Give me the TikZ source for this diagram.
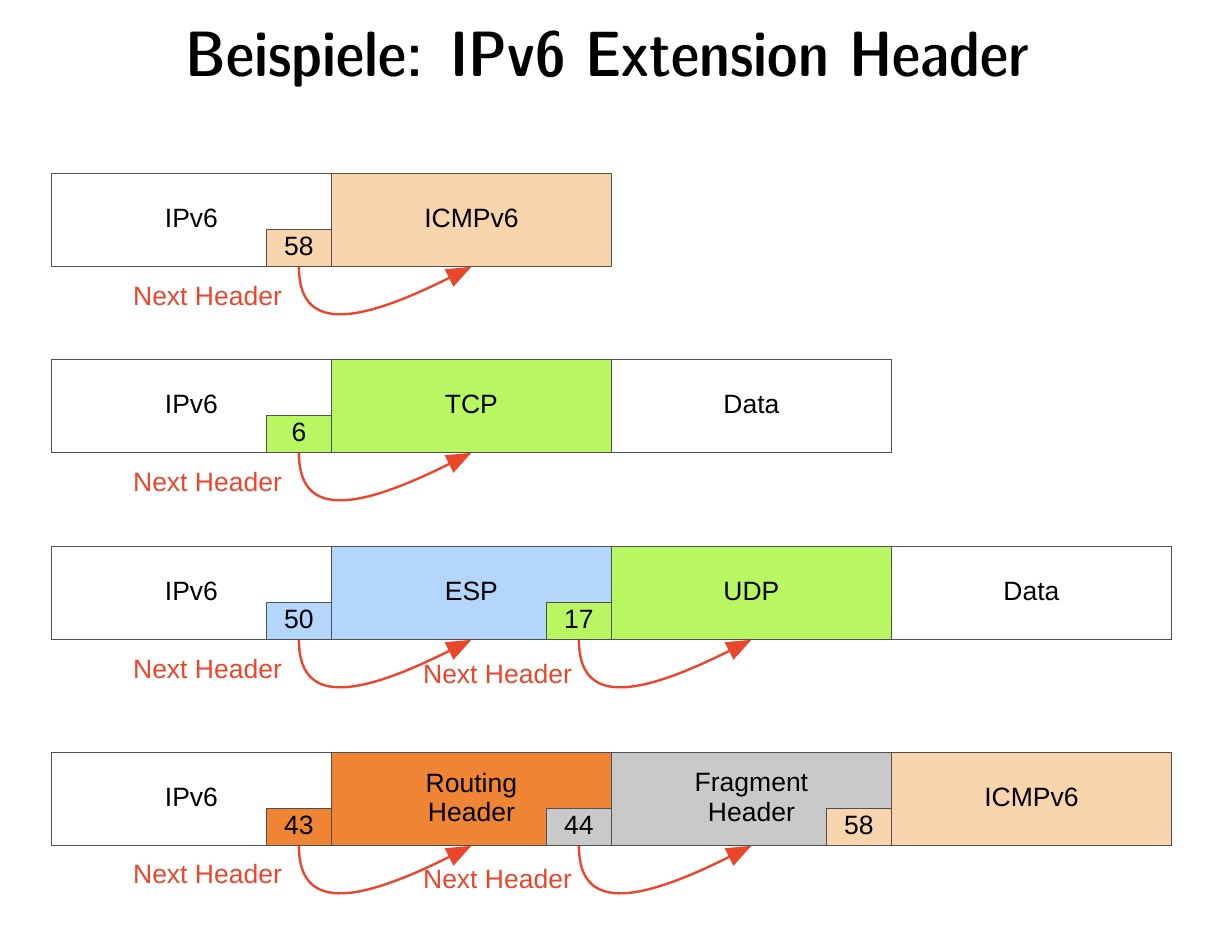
\documentclass[tikz,border=0pt]{standalone}
\usepackage{fontspec}
\newfontfamily\arial{Liberation Sans}
\usetikzlibrary{arrows.meta}
\definecolor{peach}{HTML}{F8D5AD}
\definecolor{tcpgreen}{HTML}{B9F762}
\definecolor{espblue}{HTML}{B3D6FA}
\definecolor{rtorange}{HTML}{EE8434}
\definecolor{fraggray}{HTML}{C9C9C9}
\definecolor{nhred}{HTML}{E9462B}
\definecolor{border}{HTML}{505050}
\tikzset{
  box/.style={draw=border, line width=0.8pt, minimum width=280pt, minimum height=93pt,
    anchor=north west, inner sep=0pt, align=center, text depth=3pt,
    font=\arial\fontsize{26.5}{29.5}\selectfont},
  nbox/.style={box, minimum width=65pt, minimum height=37pt, anchor=south east},
  nh/.style={draw=nhred, line width=2.4pt, -{Triangle[length=25pt,width=19pt]}},
  lab/.style={text=nhred, anchor=base, inner sep=0pt, font=\arial\fontsize{26.5}{29.5}\selectfont}
}
\begin{document}
\begin{tikzpicture}[x=1pt,y=-1pt]
\useasboundingbox (0,0) rectangle (1222,924);
\node[anchor=base, inner sep=0pt, font=\sffamily\fontseries{sbc}\selectfont\fontsize{64}{72}\selectfont] (title) at (607.5,76) {Beispiele: IPv6 Extension Header};

% row 1
\node[box, fill=white] (b11) at (51,173) {IPv6};
\node[box, fill=peach] (b12) at (331,173) {ICMPv6};
\node[nbox, fill=peach] (s11) at (b11.south east) {58};
\draw[nh] (s11.south) .. controls +(0,64) and +(-118,59) .. (b12.south);
\node[lab] (l11) at (207.5,305) {Next Header};

% row 2
\node[box, fill=white] (b21) at (51,359) {IPv6};
\node[box, fill=tcpgreen] (b22) at (331,359) {TCP};
\node[box, fill=white] (b23) at (611,359) {Data};
\node[nbox, fill=tcpgreen] (s21) at (b21.south east) {6};
\draw[nh] (s21.south) .. controls +(0,64) and +(-118,59) .. (b22.south);
\node[lab] (l21) at (207.5,491) {Next Header};

% row 3
\node[box, fill=white] (b31) at (51,546) {IPv6};
\node[box, fill=espblue] (b32) at (331,546) {ESP};
\node[box, fill=tcpgreen] (b33) at (611,546) {UDP};
\node[box, fill=white] (b34) at (891,546) {Data};
\node[nbox, fill=espblue] (s31) at (b31.south east) {50};
\node[nbox, fill=tcpgreen] (s32) at (b32.south east) {17};
\draw[nh] (s31.south) .. controls +(0,64) and +(-118,59) .. (b32.south);
\draw[nh] (s32.south) .. controls +(0,64) and +(-118,59) .. (b33.south);
\node[lab] (l31) at (207.5,678) {Next Header};
\node[lab] (l32) at (497.5,683) {Next Header};

% row 4
\node[box, fill=white] (b41) at (51,752) {IPv6};
\node[box, fill=rtorange] (b42) at (331,752) {Routing\\Header};
\node[box, fill=fraggray] (b43) at (611,752) {Fragment\\Header};
\node[box, fill=peach] (b44) at (891,752) {ICMPv6};
\node[nbox, fill=rtorange] (s41) at (b41.south east) {43};
\node[nbox, fill=fraggray] (s42) at (b42.south east) {44};
\node[nbox, fill=peach] (s43) at (b43.south east) {58};
\draw[nh] (s41.south) .. controls +(0,64) and +(-118,59) .. (b42.south);
\draw[nh] (s42.south) .. controls +(0,64) and +(-118,59) .. (b43.south);
\node[lab] (l41) at (207.5,883) {Next Header};
\node[lab] (l42) at (497.5,888) {Next Header};
\end{tikzpicture}
\end{document}
